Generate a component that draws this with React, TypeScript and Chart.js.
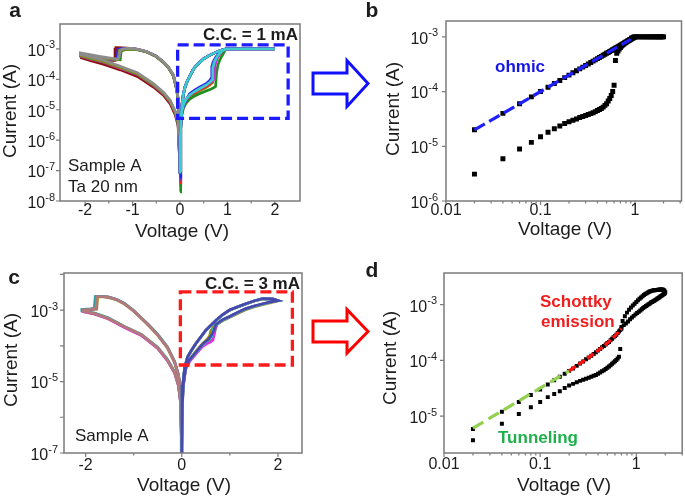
import React, { useEffect, useRef } from 'react';
import { Chart, registerables } from 'chart.js';

Chart.register(...registerables);

type P = [number, number];

// ================= Panel a data (C.C. = 1 mA, linear V) =================
const aPosOlive: P[] = [[0,3e-8],[0.015,2.8e-6],[0.04,7.5e-6],[0.07,1.2e-5],[0.12,1.8e-5],[0.2,2.6e-5],[0.3,3.3e-5],[0.42,4.3e-5],[0.55,5.4e-5],[0.63,6.5e-5],[0.69,8e-5],[0.7,2e-4],[0.74,3.8e-4],[0.8,5.8e-4],[0.88,8.2e-4],[0.96,1e-3],[2.0,1e-3]];
const aPosGreen: P[] = [[0,2e-8],[0.015,2.5e-6],[0.04,7e-6],[0.07,1.1e-5],[0.12,1.6e-5],[0.2,2.2e-5],[0.3,2.8e-5],[0.42,3.4e-5],[0.55,4.1e-5],[0.63,4.6e-5],[0.7,5.2e-5],[0.75,5.8e-5],[0.77,1.6e-4],[0.8,3e-4],[0.84,4.4e-4],[0.9,6.5e-4],[0.95,9e-4],[1.0,1e-3],[2.0,1e-3]];
const aPosRed: P[] = [[0,4e-8],[0.015,3e-6],[0.04,8e-6],[0.07,1.25e-5],[0.12,1.9e-5],[0.2,2.9e-5],[0.3,3.6e-5],[0.42,4.6e-5],[0.55,5.8e-5],[0.63,7e-5],[0.68,8.5e-5],[0.71,1e-4],[0.72,2.6e-4],[0.76,4.2e-4],[0.82,6.2e-4],[0.9,8.6e-4],[0.97,1e-3],[2.0,1e-3]];
const aPosMagenta: P[] = [[0,5e-8],[0.015,3.5e-6],[0.04,9e-6],[0.07,1.35e-5],[0.12,2e-5],[0.2,3.1e-5],[0.3,4e-5],[0.42,5.2e-5],[0.55,6.6e-5],[0.63,8e-5],[0.7,9.5e-5],[0.73,1.1e-4],[0.74,3e-4],[0.78,5e-4],[0.84,7e-4],[0.9,9e-4],[0.96,1e-3],[2.0,1e-3]];
const aPosPurple: P[] = [[0,5e-8],[0.015,3.3e-6],[0.04,8.8e-6],[0.07,1.3e-5],[0.12,2e-5],[0.2,3e-5],[0.3,4e-5],[0.42,5.3e-5],[0.55,6.8e-5],[0.63,8.5e-5],[0.69,1.05e-4],[0.7,2.8e-4],[0.75,4.6e-4],[0.82,6.8e-4],[0.9,9e-4],[0.97,1e-3],[2.0,1e-3]];
const aPosBlue: P[] = [[0,6e-8],[0.015,3.2e-6],[0.04,8.5e-6],[0.07,1.3e-5],[0.12,2e-5],[0.2,3.3e-5],[0.3,4.3e-5],[0.42,5.6e-5],[0.55,7.2e-5],[0.62,9e-5],[0.66,1.1e-4],[0.67,2.6e-4],[0.7,3.8e-4],[0.76,5.5e-4],[0.84,7.6e-4],[0.92,9.4e-4],[0.98,1e-3],[2.0,1e-3]];
const aPosCyan: P[] = [[0,1e-7],[0.015,3.5e-6],[0.04,9e-6],[0.07,1.4e-5],[0.12,2.1e-5],[0.2,3e-5],[0.3,3.9e-5],[0.42,5e-5],[0.55,6.4e-5],[0.63,8e-5],[0.68,1e-4],[0.69,2.4e-4],[0.73,4e-4],[0.8,6.2e-4],[0.9,8.8e-4],[0.98,1e-3],[2.0,1e-3]];
const aLrsReturn: P[] = [[2.0,1e-3],[1.5,1e-3],[1.1,1e-3],[0.98,1e-3],[0.9,9.4e-4],[0.8,8.3e-4],[0.7,7e-4],[0.6,5.9e-4],[0.49,4.6e-4],[0.35,2.9e-4],[0.28,2.1e-4],[0.21,1.3e-4],[0.15,8.5e-5],[0.105,5.5e-5],[0.07,3.2e-5],[0.045,1.6e-5],[0.025,6e-6],[0.01,1.5e-6],[0,8e-8]];

const aNegDarkRed: P[] = [[0,2e-7],[-0.02,1.1e-5],[-0.035,1.8e-5],[-0.07,4.6e-5],[-0.14,1.3e-4],[-0.25,2.5e-4],[-0.35,3.6e-4],[-0.5,5.6e-4],[-0.7,8e-4],[-0.9,9.7e-4],[-1.05,1.05e-3],[-1.2,1.08e-3],[-1.35,1.1e-3],[-1.37,4.2e-4],[-1.5,4.2e-4],[-1.7,4.7e-4],[-1.9,5.3e-4],[-2.08,5.9e-4],[-2.08,5.1e-4],[-1.9,4.2e-4],[-1.6,3.1e-4],[-1.26,2.05e-4],[-0.9,1.25e-4],[-0.56,5.6e-5],[-0.35,3e-5],[-0.21,1.6e-5],[-0.1,6.8e-6],[-0.04,3e-6],[0,1.2e-7]];
const aNegMagenta: P[] = [[0,1.5e-7],[-0.02,1.15e-5],[-0.035,1.9e-5],[-0.07,4.8e-5],[-0.14,1.35e-4],[-0.25,2.55e-4],[-0.35,3.7e-4],[-0.5,5.7e-4],[-0.7,8.1e-4],[-0.9,9.7e-4],[-1.05,1.03e-3],[-1.2,1.0e-3],[-1.3,9.6e-4],[-1.32,4.4e-4],[-1.5,4.6e-4],[-1.7,5.2e-4],[-1.9,5.9e-4],[-2.1,6.7e-4],[-2.1,5.8e-4],[-1.9,4.7e-4],[-1.6,3.6e-4],[-1.26,2.3e-4],[-0.9,1.45e-4],[-0.56,6.3e-5],[-0.35,3.4e-5],[-0.21,1.8e-5],[-0.1,7.8e-6],[-0.04,3.6e-6],[0,1.4e-7]];
const aNegBlue: P[] = [[0,1.7e-7],[-0.02,1.2e-5],[-0.035,2e-5],[-0.07,4.9e-5],[-0.14,1.38e-4],[-0.25,2.6e-4],[-0.35,3.75e-4],[-0.5,5.75e-4],[-0.7,8.1e-4],[-0.9,9.7e-4],[-1.05,1.04e-3],[-1.2,1.02e-3],[-1.31,9.8e-4],[-1.33,4.5e-4],[-1.5,4.8e-4],[-1.7,5.4e-4],[-1.9,6.1e-4],[-2.1,7e-4],[-2.1,6.1e-4],[-1.9,5e-4],[-1.6,3.85e-4],[-1.26,2.5e-4],[-0.9,1.55e-4],[-0.56,6.8e-5],[-0.35,3.6e-5],[-0.21,1.95e-5],[-0.1,8.5e-6],[-0.04,4e-6],[0,1.6e-7]];
const aNegGreen: P[] = [[0,1.3e-7],[-0.02,1.1e-5],[-0.035,1.85e-5],[-0.07,4.7e-5],[-0.14,1.32e-4],[-0.25,2.5e-4],[-0.35,3.65e-4],[-0.5,5.6e-4],[-0.7,7.9e-4],[-0.9,9.4e-4],[-1.05,9.8e-4],[-1.15,9.4e-4],[-1.24,8.6e-4],[-1.26,4.4e-4],[-1.5,4.7e-4],[-1.7,5.3e-4],[-1.9,6e-4],[-2.1,6.9e-4],[-2.1,6e-4],[-1.9,4.9e-4],[-1.6,3.75e-4],[-1.26,2.45e-4],[-0.9,1.5e-4],[-0.56,6.6e-5],[-0.35,3.5e-5],[-0.21,1.9e-5],[-0.1,8.2e-6],[-0.04,3.8e-6],[0,1.3e-7]];
const aNegOlive: P[] = [[0,1e-7],[-0.02,1.15e-5],[-0.035,1.9e-5],[-0.07,4.8e-5],[-0.14,1.35e-4],[-0.25,2.55e-4],[-0.35,3.7e-4],[-0.5,5.7e-4],[-0.7,8.1e-4],[-0.9,9.6e-4],[-1.05,1.0e-3],[-1.2,9.4e-4],[-1.28,9e-4],[-1.3,4.5e-4],[-1.5,4.75e-4],[-1.7,5.35e-4],[-1.9,6.05e-4],[-2.1,6.9e-4],[-2.1,6.05e-4],[-1.9,4.95e-4],[-1.6,3.8e-4],[-1.26,2.45e-4],[-0.9,1.52e-4],[-0.56,6.7e-5],[-0.35,3.55e-5],[-0.21,1.92e-5],[-0.1,8.3e-6],[-0.04,3.9e-6],[0,1e-7]];
const aNegGray: P[] = [[0,1.5e-7],[-0.02,1.2e-5],[-0.035,2e-5],[-0.07,5e-5],[-0.14,1.4e-4],[-0.25,2.6e-4],[-0.35,3.8e-4],[-0.5,5.8e-4],[-0.7,8.2e-4],[-0.88,9.7e-4],[-1.0,1.04e-3],[-1.1,1.04e-3],[-1.2,1e-3],[-1.26,9.2e-4],[-1.28,5.5e-4],[-1.32,4.6e-4],[-1.5,5.1e-4],[-1.7,5.7e-4],[-1.9,6.5e-4],[-2.1,7.4e-4],[-2.1,6.6e-4],[-1.9,5.4e-4],[-1.6,4.2e-4],[-1.26,2.7e-4],[-0.9,1.65e-4],[-0.56,7.2e-5],[-0.35,3.8e-5],[-0.21,2.1e-5],[-0.1,9e-6],[-0.04,4.5e-6],[0,1.8e-7]];
const aBoxV = [-0.05, 2.28];
const aBoxI = [5.2e-6, 1.35e-3];

// ================= Panel b data (log-log, C.C. = 1 mA) =================
const bHrsV = [0.02,0.04,0.06,0.08,0.10,0.12,0.14,0.16,0.18,0.20,0.22,0.24,0.26,0.28,0.30,0.32,0.34,0.36,0.38,0.40,0.42,0.44,0.46,0.48,0.50,0.52,0.54,0.56,0.58,0.60];
const bHrsI = [3.1e-6,5.9e-6,8.9e-6,1.18e-5,1.5e-5,1.8e-5,2.1e-5,2.35e-5,2.6e-5,2.8e-5,3.0e-5,3.15e-5,3.35e-5,3.5e-5,3.65e-5,3.8e-5,3.95e-5,4.1e-5,4.3e-5,4.5e-5,4.7e-5,4.9e-5,5.2e-5,5.6e-5,6.0e-5,6.7e-5,7.5e-5,8.5e-5,1.0e-4,1.3e-4];
const bSetV = [0.62,0.64,0.66,0.68,0.70,0.72,0.74,0.76,0.78,0.80,0.84,0.88,0.92,0.96];
const bSetI = [3.7e-4,5.0e-4,5.5e-4,6.0e-4,6.4e-4,6.8e-4,7.1e-4,7.4e-4,7.7e-4,8.0e-4,8.5e-4,9.0e-4,9.5e-4,9.8e-4];
const bCompV = [1.00,1.04,1.08,1.12,1.16,1.20,1.24,1.28,1.32,1.36,1.40,1.44,1.48,1.52,1.56,1.60,1.64,1.68,1.72,1.76,1.80,1.84,1.88,1.92,1.96,2.00];
const bCompI = [1e-3,1e-3,1e-3,1e-3,1e-3,1e-3,1e-3,1e-3,1e-3,1e-3,1e-3,1e-3,1e-3,1e-3,1e-3,1e-3,1e-3,1e-3,1e-3,1e-3,1e-3,1e-3,1e-3,1e-3,1e-3,1e-3];
const bLrsV = [0.02,0.04,0.06,0.08,0.10,0.12,0.14,0.16,0.18,0.20,0.22,0.24,0.26,0.28,0.30,0.32,0.34,0.36,0.38,0.40,0.42,0.44,0.46,0.48,0.50,0.52,0.54,0.56,0.58,0.60,0.62,0.64,0.66,0.68,0.70,0.72,0.74,0.76,0.78,0.80,0.82,0.84,0.86,0.88,0.90,0.92,0.94,0.96,0.98,1.00];
const bLrsI = [2.0e-5,4.0e-5,6.0e-5,8.0e-5,1.0e-4,1.2e-4,1.4e-4,1.6e-4,1.8e-4,2.0e-4,2.2e-4,2.4e-4,2.6e-4,2.8e-4,3.0e-4,3.2e-4,3.4e-4,3.6e-4,3.8e-4,4.0e-4,4.2e-4,4.4e-4,4.6e-4,4.8e-4,5.0e-4,5.2e-4,5.4e-4,5.6e-4,5.8e-4,6.0e-4,6.2e-4,6.4e-4,6.6e-4,6.8e-4,7.0e-4,7.2e-4,7.4e-4,7.6e-4,7.8e-4,8.0e-4,8.2e-4,8.4e-4,8.6e-4,8.8e-4,9.0e-4,9.2e-4,9.4e-4,9.6e-4,9.8e-4,1.0e-3];
const bOhmicFit: P[] = [[0.02,2e-5],[0.9,9e-4]];

// ================= Panel c data (C.C. = 3 mA, linear V) =================
const cNegOlive: P[] = [[0,1e-7],[-0.01,1.9e-6],[-0.03,5.8e-6],[-0.07,1.45e-5],[-0.15,3.4e-5],[-0.3,8.7e-5],[-0.5,1.95e-4],[-0.7,3.8e-4],[-0.84,5.8e-4],[-1.0,9.3e-4],[-1.19,1.47e-3],[-1.35,1.92e-3],[-1.53,2.27e-3],[-1.68,2.36e-3],[-1.75,2.3e-3],[-1.77,1.06e-3],[-1.9,1.02e-3],[-2.03,9.8e-4],[-2.03,9.0e-4],[-1.81,7.7e-4],[-1.53,5.7e-4],[-1.19,3.3e-4],[-0.84,1.98e-4],[-0.5,8.5e-5],[-0.3,3.9e-5],[-0.15,1.75e-5],[-0.07,7.8e-6],[-0.03,2.9e-6],[0,1e-7]];
const cNegMagenta: P[] = [[0,1e-7],[-0.01,2.1e-6],[-0.03,6.2e-6],[-0.07,1.55e-5],[-0.15,3.6e-5],[-0.3,9.2e-5],[-0.5,2.05e-4],[-0.7,3.95e-4],[-0.84,5.95e-4],[-1.0,9.6e-4],[-1.19,1.52e-3],[-1.35,1.97e-3],[-1.53,2.32e-3],[-1.7,2.4e-3],[-1.78,2.36e-3],[-1.8,1.08e-3],[-1.9,1.04e-3],[-2.06,1.0e-3],[-2.06,9.1e-4],[-1.81,7.8e-4],[-1.53,5.7e-4],[-1.19,3.25e-4],[-0.84,1.95e-4],[-0.5,8.4e-5],[-0.3,3.85e-5],[-0.15,1.75e-5],[-0.07,7.6e-6],[-0.03,2.8e-6],[0,1e-7]];
const cNegTeal: P[] = [[0,1e-7],[-0.01,2.2e-6],[-0.03,6.5e-6],[-0.07,1.6e-5],[-0.15,3.7e-5],[-0.3,9.4e-5],[-0.5,2.08e-4],[-0.7,4e-4],[-0.84,6e-4],[-1.0,9.7e-4],[-1.19,1.53e-3],[-1.35,1.98e-3],[-1.53,2.33e-3],[-1.7,2.43e-3],[-1.8,2.4e-3],[-1.82,1.12e-3],[-1.9,1.08e-3],[-2.08,1.03e-3],[-2.08,9.6e-4],[-1.81,8.3e-4],[-1.53,6.1e-4],[-1.19,3.5e-4],[-0.84,2.1e-4],[-0.5,9.1e-5],[-0.3,4.2e-5],[-0.15,1.9e-5],[-0.07,8.4e-6],[-0.03,3.2e-6],[0,1e-7]];
const cNegRosy: P[] = [[0,1e-7],[-0.01,2e-6],[-0.03,6e-6],[-0.07,1.5e-5],[-0.15,3.5e-5],[-0.3,9e-5],[-0.5,2e-4],[-0.7,3.9e-4],[-0.84,5.9e-4],[-1.0,9.5e-4],[-1.19,1.5e-3],[-1.35,1.95e-3],[-1.53,2.3e-3],[-1.68,2.4e-3],[-1.77,2.35e-3],[-1.79,1.1e-3],[-1.9,1.05e-3],[-2.05,1.0e-3],[-2.05,9.3e-4],[-1.81,8e-4],[-1.53,5.9e-4],[-1.19,3.4e-4],[-0.84,2.05e-4],[-0.5,8.8e-5],[-0.3,4e-5],[-0.15,1.8e-5],[-0.07,8e-6],[-0.03,3e-6],[0,1e-7]];

const cPosOlive: P[] = [[0,1e-7],[0.01,2.2e-6],[0.03,8.5e-6],[0.08,2.5e-5],[0.16,4.2e-5],[0.3,7.2e-5],[0.43,1.15e-4],[0.52,1.5e-4],[0.58,1.9e-4],[0.6,2.6e-4],[0.66,3.4e-4],[0.72,3.9e-4],[0.85,5e-4],[0.99,6.2e-4],[1.15,7.9e-4],[1.33,1.02e-3],[1.5,1.22e-3],[1.68,1.42e-3],[1.85,1.62e-3],[1.98,1.78e-3]];
const cPosOliveRet: P[] = [[1.98,1.78e-3],[1.9,1.98e-3],[1.68,2.04e-3],[1.5,1.76e-3],[1.33,1.47e-3],[1.15,1.2e-3],[0.99,9.7e-4],[0.85,7.3e-4],[0.71,5e-4],[0.5,2.7e-4],[0.3,1.18e-4],[0.2,7.3e-5],[0.12,4.8e-5],[0.06,2.4e-5],[0.02,7.5e-6],[0.005,1.4e-6],[0,1e-7]];
const cPosGreen: P[] = [[0,1e-7],[0.01,1.9e-6],[0.03,7.5e-6],[0.08,2.3e-5],[0.16,3.8e-5],[0.3,6.4e-5],[0.43,1.02e-4],[0.55,1.38e-4],[0.64,1.7e-4],[0.68,2.2e-4],[0.7,3e-4],[0.74,4.1e-4],[0.85,5.3e-4],[0.99,6.5e-4],[1.15,8.4e-4],[1.33,1.08e-3],[1.5,1.28e-3],[1.68,1.48e-3],[1.85,1.68e-3],[2.0,1.83e-3]];
const cPosMagenta: P[] = [[0,1e-7],[0.01,1.8e-6],[0.03,7e-6],[0.08,2.2e-5],[0.16,3.6e-5],[0.3,6e-5],[0.43,9.5e-5],[0.5,1.1e-4],[0.6,1.28e-4],[0.65,1.45e-4],[0.68,2.5e-4],[0.72,3.9e-4],[0.85,5.3e-4],[0.99,6.5e-4],[1.15,8.4e-4],[1.33,1.08e-3],[1.5,1.28e-3],[1.68,1.48e-3],[1.85,1.68e-3],[2.0,1.83e-3]];
const cPosCyan: P[] = [[0,1e-7],[0.01,2.1e-6],[0.03,8e-6],[0.08,2.4e-5],[0.16,4e-5],[0.3,6.6e-5],[0.43,1.06e-4],[0.55,1.45e-4],[0.62,1.8e-4],[0.65,2.8e-4],[0.7,3.7e-4],[0.85,5.3e-4],[0.99,6.5e-4],[1.15,8.4e-4],[1.33,1.08e-3],[1.5,1.28e-3],[1.68,1.48e-3],[1.85,1.68e-3],[2.0,1.83e-3]];
const cRetShared: P[] = [[2.0,1.83e-3],[1.9,2.02e-3],[1.68,2.08e-3],[1.5,1.79e-3],[1.33,1.49e-3],[1.15,1.21e-3],[0.99,9.9e-4],[0.85,7.4e-4],[0.71,5.1e-4],[0.5,2.72e-4],[0.3,1.19e-4],[0.2,7.4e-5],[0.12,4.85e-5],[0.06,2.45e-5],[0.02,7.8e-6],[0.005,1.45e-6],[0,1e-7]];
const cPosBlue: P[] = [[0,1e-7],[0.01,2e-6],[0.03,8e-6],[0.08,2.4e-5],[0.16,4e-5],[0.3,6.8e-5],[0.43,1.1e-4],[0.55,1.5e-4],[0.62,2e-4],[0.66,2.6e-4],[0.71,4e-4],[0.85,5.4e-4],[0.99,6.6e-4],[1.15,8.5e-4],[1.33,1.1e-3],[1.5,1.3e-3],[1.68,1.5e-3],[1.85,1.7e-3],[2.0,1.85e-3]];
const cPosBlueRet: P[] = [[2.0,1.85e-3],[1.9,2.05e-3],[1.68,2.1e-3],[1.5,1.8e-3],[1.33,1.5e-3],[1.15,1.22e-3],[0.99,1e-3],[0.85,7.5e-4],[0.71,5.2e-4],[0.5,2.75e-4],[0.3,1.2e-4],[0.2,7.5e-5],[0.12,4.9e-5],[0.06,2.5e-5],[0.02,8e-6],[0.005,1.5e-6],[0,1e-7]];
const cBoxV = [-0.03, 2.30];
const cBoxI = [2.9e-5, 3.25e-3];

// ================= Panel d data (log-log, C.C. = 3 mA) =================
const dHrsV = [0.02,0.04,0.06,0.08,0.10,0.12,0.14,0.16,0.18,0.20,0.22,0.24,0.26,0.28,0.30,0.32,0.34,0.36,0.38,0.40,0.42,0.44,0.46,0.48,0.50,0.52,0.54,0.56,0.58,0.60,0.62,0.64,0.66,0.68];
const dHrsI = [3.7e-6,7.3e-6,1.1e-5,1.45e-5,1.8e-5,2.2e-5,2.5e-5,2.8e-5,3.2e-5,3.55e-5,3.8e-5,4.05e-5,4.3e-5,4.5e-5,4.7e-5,4.9e-5,5.1e-5,5.3e-5,5.5e-5,5.8e-5,6.1e-5,6.4e-5,6.7e-5,7.0e-5,7.4e-5,7.8e-5,8.2e-5,8.7e-5,9.2e-5,9.7e-5,1.02e-4,1.08e-4,1.17e-4,1.6e-4];
const dLoopFwdV = [0.70,0.74,0.78,0.82,0.86,0.90,0.94,0.98,1.02,1.06,1.10,1.14,1.18,1.22,1.26,1.30,1.34,1.38,1.42,1.46,1.50,1.54,1.58,1.62,1.66,1.70,1.74,1.78,1.82,1.86,1.90,1.94,1.98];
const dLoopFwdI = [4.0e-4,4.3e-4,4.6e-4,5.0e-4,5.5e-4,5.9e-4,6.3e-4,6.7e-4,7.1e-4,7.5e-4,7.9e-4,8.3e-4,8.7e-4,9.1e-4,9.5e-4,9.8e-4,1.02e-3,1.05e-3,1.09e-3,1.12e-3,1.15e-3,1.18e-3,1.22e-3,1.25e-3,1.29e-3,1.32e-3,1.36e-3,1.40e-3,1.44e-3,1.48e-3,1.52e-3,1.56e-3,1.6e-3];
const dLoopRetV = [2.00,1.96,1.92,1.88,1.84,1.80,1.76,1.72,1.68,1.64,1.60,1.56,1.52,1.48,1.44,1.40,1.36,1.32,1.28,1.24,1.20,1.16,1.12,1.08,1.04,1.00,0.96,0.92,0.88,0.84,0.80,0.76,0.72];
const dLoopRetI = [1.68e-3,1.78e-3,1.84e-3,1.87e-3,1.88e-3,1.88e-3,1.87e-3,1.86e-3,1.85e-3,1.84e-3,1.83e-3,1.82e-3,1.81e-3,1.80e-3,1.77e-3,1.74e-3,1.70e-3,1.65e-3,1.60e-3,1.55e-3,1.49e-3,1.42e-3,1.35e-3,1.28e-3,1.20e-3,1.12e-3,1.04e-3,9.7e-4,8.9e-4,8.1e-4,7.2e-4,6.2e-4,5.1e-4];
const dRetLowV = [0.70,0.68,0.66,0.64,0.62,0.60,0.58,0.56,0.54,0.52,0.50,0.48,0.46,0.44,0.42,0.40,0.38,0.36,0.34,0.32,0.30,0.28,0.26,0.24,0.22,0.20,0.18,0.16,0.14,0.12,0.10,0.08,0.06,0.04,0.02];
const dRetLowI = [3.7e-4,3.5e-4,3.3e-4,3.1e-4,2.9e-4,2.75e-4,2.6e-4,2.45e-4,2.3e-4,2.15e-4,2.05e-4,1.93e-4,1.82e-4,1.72e-4,1.6e-4,1.5e-4,1.4e-4,1.3e-4,1.21e-4,1.13e-4,1.05e-4,9.6e-5,8.8e-5,8.0e-5,7.2e-5,6.5e-5,5.8e-5,5.1e-5,4.4e-5,3.7e-5,3.0e-5,2.4e-5,1.8e-5,1.2e-5,5.9e-6];
const dTunnelFit: P[] = [[0.02,6.1e-6],[0.2,6.5e-5]];
const dSchottkyFit: P[] = [[0.2,6.5e-5],[0.3,1.05e-4],[0.4,1.5e-4],[0.5,2.05e-4],[0.6,2.75e-4],[0.7,3.7e-4]];

// ================= tick values =================
const linTicksA = [-2, -1, 0, 1, 2];
const linMinorA = [-1.5, -0.5, 0.5, 1.5];
const decadesA = [-8, -7, -6, -5, -4, -3];
const logXTicks = [0.01, 0.1, 1];
const logXLabels = ['0.01', '0.1', '1'];
const logXMinor = [0.02,0.03,0.04,0.05,0.06,0.07,0.08,0.09,0.2,0.3,0.4,0.5,0.6,0.7,0.8,0.9,2,3];
const decadesB = [-6, -5, -4, -3];
const linTicksC = [-2, 0, 2];
const linMinorC = [-1, 1];
const decadesC = [-7, -5, -3];
const decadesCUnlabeled = [-6, -4, -2];
const decadesD = [-5, -4, -3];

// ================= rendering helpers =================
const FONT = '"Liberation Sans", Arial, Helvetica, sans-serif';
const AXIS_COLOR = '#7b7b7b';
const TEXT_COLOR = '#1c1c1c';

const toXY = (pts: P[]) => pts.map(([x, y]) => ({ x, y }));
const zip = (v: number[], i: number[]) => v.map((x, k) => ({ x, y: i[k] }));

const lineDs = (data: any[], color: string, width = 2.7) => ({
  data, showLine: true, borderColor: color, backgroundColor: color, borderWidth: width,
  pointRadius: 0, pointHoverRadius: 0, tension: 0, fill: false,
});
const dotDs = (data: any[], r: number) => ({
  data, showLine: false, pointStyle: 'rect', pointRadius: r, pointHoverRadius: r,
  backgroundColor: '#000', borderColor: '#000', borderWidth: 0,
});
const dashDs = (data: any[], color: string, dash: number[], width = 3.2) => ({
  data, showLine: true, borderColor: color, backgroundColor: color, borderWidth: width,
  borderDash: dash, pointRadius: 0, pointHoverRadius: 0, tension: 0, fill: false, borderCapStyle: 'butt',
});

interface TickSpec { v: number; label?: string; sup?: string }
interface TextSpec { text: string; x: number; y: number; font: string; color?: string; align?: CanvasTextAlign; rotate?: boolean }
interface PanelSpec {
  ox: number; oy: number; w: number; h: number;
  area: { l: number; t: number; r: number; b: number };
  xType: string; xMin: number; xMax: number;
  yMin: number; yMax: number;
  xTicks: TickSpec[]; xMinor: number[];
  yTicks: TickSpec[]; yMinor: number[];
  xLabelOff: number; yLabelGap: number;
  texts: TextSpec[];
  rect?: { x: number[]; y: number[]; color: string };
  datasets: any[];
}

function decor(spec: PanelSpec) {
  return {
    id: 'decor',
    afterDatasetsDraw(chart: any) {
      const ctx: CanvasRenderingContext2D = chart.ctx;
      const a = chart.chartArea;
      const xs = chart.scales.x;
      const ys = chart.scales.y;
      ctx.save();
      if (spec.rect) {
        const r = spec.rect;
        const x0 = xs.getPixelForValue(r.x[0]);
        const x1 = xs.getPixelForValue(r.x[1]);
        const y0 = ys.getPixelForValue(r.y[1]);
        const y1 = ys.getPixelForValue(r.y[0]);
        ctx.strokeStyle = r.color;
        ctx.lineWidth = 3.3;
        ctx.setLineDash([11, 5]);
        ctx.strokeRect(x0, y0, x1 - x0, y1 - y0);
      }
      ctx.setLineDash([]);
      ctx.strokeStyle = AXIS_COLOR;
      ctx.lineWidth = 1.5;
      ctx.strokeRect(a.left, a.top, a.right - a.left, a.bottom - a.top);
      ctx.lineWidth = 1.2;
      ctx.beginPath();
      for (const t of spec.xTicks) {
        const px = xs.getPixelForValue(t.v);
        ctx.moveTo(px, a.bottom); ctx.lineTo(px, a.bottom + 4);
      }
      for (const v of spec.xMinor) {
        const px = xs.getPixelForValue(v);
        ctx.moveTo(px, a.bottom); ctx.lineTo(px, a.bottom + 2.5);
      }
      for (const t of spec.yTicks) {
        const py = ys.getPixelForValue(t.v);
        ctx.moveTo(a.left, py); ctx.lineTo(a.left - 4, py);
      }
      for (const v of spec.yMinor) {
        const py = ys.getPixelForValue(v);
        ctx.moveTo(a.left, py); ctx.lineTo(a.left - 4, py);
      }
      ctx.stroke();

      ctx.fillStyle = TEXT_COLOR;
      ctx.textBaseline = 'middle';
      ctx.font = `16px ${FONT}`;
      ctx.textAlign = 'center';
      for (const t of spec.xTicks) {
        if (!t.label) continue;
        ctx.fillText(t.label, xs.getPixelForValue(t.v), a.bottom + spec.xLabelOff);
      }
      for (const t of spec.yTicks) {
        if (!t.label) continue;
        const py = ys.getPixelForValue(t.v);
        const right = a.left - spec.yLabelGap;
        ctx.font = `11px ${FONT}`;
        const ws = ctx.measureText(t.sup || '').width;
        ctx.font = `16px ${FONT}`;
        ctx.textAlign = 'right';
        ctx.fillText(t.label, right - ws, py + 2.5);
        ctx.font = `11px ${FONT}`;
        ctx.textAlign = 'left';
        ctx.fillText(t.sup || '', right - ws, py - 3.5);
      }
      for (const t of spec.texts) {
        ctx.font = t.font;
        ctx.fillStyle = t.color || TEXT_COLOR;
        ctx.textAlign = t.align || 'left';
        ctx.textBaseline = 'middle';
        const x = t.x - spec.ox;
        const y = t.y - spec.oy;
        if (t.rotate) {
          ctx.save(); ctx.translate(x, y); ctx.rotate(-Math.PI / 2); ctx.fillText(t.text, 0, 0); ctx.restore();
        } else {
          ctx.fillText(t.text, x, y);
        }
      }
      ctx.restore();
    },
  };
}

function Panel({ spec }: { spec: PanelSpec }) {
  const ref = useRef<HTMLCanvasElement>(null);
  useEffect(() => {
    const n = spec.datasets.length;
    const datasets = spec.datasets.map((d, i) => ({ ...d, order: n - i }));
    const chart = new Chart(ref.current as HTMLCanvasElement, {
      type: 'scatter',
      data: { datasets } as any,
      options: {
        responsive: false,
        maintainAspectRatio: false,
        animation: false,
        devicePixelRatio: 1,
        events: [],
        layout: { padding: { left: 0, top: spec.area.t - spec.oy, right: spec.ox + spec.w - spec.area.r, bottom: 0 } },
        scales: {
          x: {
            type: spec.xType as any, min: spec.xMin, max: spec.xMax,
            grid: { display: false }, border: { display: false }, ticks: { display: false },
            afterFit: (s: any) => { s.height = spec.oy + spec.h - spec.area.b; },
          },
          y: {
            type: 'logarithmic', min: spec.yMin, max: spec.yMax,
            grid: { display: false }, border: { display: false }, ticks: { display: false },
            afterFit: (s: any) => { s.width = spec.area.l - spec.ox; },
          },
        },
        plugins: { legend: { display: false }, tooltip: { enabled: false } },
      } as any,
      plugins: [decor(spec)],
    });
    return () => chart.destroy();
  }, []);
  return (
    <canvas
      ref={ref}
      width={spec.w}
      height={spec.h}
      style={{ position: 'absolute', left: spec.ox, top: spec.oy, width: spec.w, height: spec.h }}
    />
  );
}

const dec = (e: number) => Math.pow(10, e);
const decTicks = (es: number[]): TickSpec[] => es.map((e) => ({ v: dec(e), label: '10', sup: String(e) }));
const linTicks = (vs: number[]): TickSpec[] => vs.map((v) => ({ v, label: String(v) }));
const logTicks = (vs: number[], ls: string[]): TickSpec[] => vs.map((v, i) => ({ v, label: ls[i] }));

const TITLE = `19px ${FONT}`;
const LETTER = `bold 21px ${FONT}`;
const NOTE = `17px ${FONT}`;
const BOLD = `bold 17px ${FONT}`;

const C = {
  gray: '#8c8c8c', darkred: '#8e0f0f', olive: '#8a8a12', green: '#1f8f1f', red: '#ee2222',
  magenta: '#de22de', purple: '#7a3cc4', blue: '#2a2ae6', cyan: '#3ccccc',
  rosy: '#b27a7a', slate: '#4949ad', teal: '#2a9d9d', cgreen: '#2db52d', cmag: '#e22ee2', ccyan: '#30d0d0', colive: '#8f8f14',
};

const specA: PanelSpec = {
  ox: 0, oy: 0, w: 340, h: 248,
  area: { l: 60, t: 24, r: 300, b: 201 },
  xType: 'linear', xMin: -2.53, xMax: 2.53, yMin: 1e-8, yMax: 6.6e-3,
  xTicks: linTicks(linTicksA), xMinor: linMinorA,
  yTicks: decTicks(decadesA), yMinor: [],
  xLabelOff: 10, yLabelGap: 5,
  texts: [
    { text: 'a', x: 15, y: 11, font: LETTER, align: 'center' },
    { text: 'Current (A)', x: 11, y: 111, font: TITLE, align: 'center', rotate: true },
    { text: 'Voltage (V)', x: 182, y: 232, font: TITLE, align: 'center' },
    { text: 'C.C. = 1 mA', x: 298, y: 35, font: BOLD, align: 'right' },
    { text: 'Sample A', x: 68, y: 166, font: NOTE },
    { text: 'Ta 20 nm', x: 68, y: 187, font: NOTE },
  ],
  rect: { x: aBoxV, y: aBoxI, color: '#1c1cff' },
  datasets: [
    lineDs(toXY(aNegDarkRed), C.darkred),
    lineDs(toXY(aNegMagenta), C.magenta),
    lineDs(toXY(aNegBlue), C.blue),
    lineDs(toXY(aNegGreen), C.green),
    lineDs(toXY(aNegOlive), C.olive),
    lineDs(toXY(aNegGray), C.gray),
    lineDs(toXY(aPosOlive.concat(aLrsReturn)), C.olive),
    lineDs(toXY(aPosGreen.concat(aLrsReturn)), C.green),
    lineDs(toXY(aPosRed.concat(aLrsReturn)), C.red),
    lineDs(toXY(aPosMagenta.concat(aLrsReturn)), C.magenta),
    lineDs(toXY(aPosPurple.concat(aLrsReturn)), C.purple),
    lineDs(toXY(aPosBlue.concat(aLrsReturn)), C.blue),
    lineDs(toXY(aPosCyan.concat(aLrsReturn)), C.cyan),
  ],
};

const specB: PanelSpec = {
  ox: 340, oy: 0, w: 345, h: 248,
  area: { l: 446, t: 21, r: 684, b: 201 },
  xType: 'logarithmic', xMin: 0.01, xMax: 3.1, yMin: 1e-6, yMax: 1.95e-3,
  xTicks: logTicks(logXTicks, logXLabels), xMinor: logXMinor,
  yTicks: decTicks(decadesB), yMinor: [],
  xLabelOff: 10, yLabelGap: 8,
  texts: [
    { text: 'b', x: 372, y: 11, font: LETTER, align: 'center' },
    { text: 'Current (A)', x: 394, y: 109, font: TITLE, align: 'center', rotate: true },
    { text: 'Voltage (V)', x: 565, y: 230, font: TITLE, align: 'center' },
    { text: 'ohmic', x: 495, y: 67, font: BOLD, color: '#1515e6' },
  ],
  datasets: [
    dotDs(zip(bHrsV, bHrsI), 3.5),
    dotDs(zip(bSetV, bSetI), 3.5),
    dotDs(zip(bCompV, bCompI), 3.5),
    dotDs(zip(bLrsV, bLrsI), 3.5),
    dashDs(toXY(bOhmicFit), '#1f1fff', [12, 5]),
  ],
};

const specC: PanelSpec = {
  ox: 0, oy: 248, w: 340, h: 249,
  area: { l: 64, t: 273, r: 302, b: 453 },
  xType: 'linear', xMin: -2.45, xMax: 2.5, yMin: 1e-7, yMax: 1.09e-2,
  xTicks: linTicks(linTicksC), xMinor: linMinorC,
  yTicks: decTicks(decadesC), yMinor: decadesCUnlabeled.map(dec),
  xLabelOff: 13, yLabelGap: 6,
  texts: [
    { text: 'c', x: 14, y: 278, font: LETTER, align: 'center' },
    { text: 'Current (A)', x: 12, y: 360, font: TITLE, align: 'center', rotate: true },
    { text: 'Voltage (V)', x: 184, y: 486, font: TITLE, align: 'center' },
    { text: 'C.C. = 3 mA', x: 300, y: 284, font: BOLD, align: 'right' },
    { text: 'Sample A', x: 75, y: 436, font: NOTE },
  ],
  rect: { x: cBoxV, y: cBoxI, color: '#ff1a1a' },
  datasets: [
    lineDs(toXY(cNegOlive), C.colive),
    lineDs(toXY(cNegMagenta), C.cmag),
    lineDs(toXY(cNegTeal), C.teal),
    lineDs(toXY(cNegRosy), C.rosy),
    lineDs(toXY(cPosOlive.concat(cPosOliveRet)), C.colive),
    lineDs(toXY(cPosGreen.concat(cRetShared)), C.cgreen),
    lineDs(toXY(cPosMagenta.concat(cRetShared)), C.cmag),
    lineDs(toXY(cPosCyan.concat(cRetShared)), C.ccyan),
    lineDs(toXY(cPosBlue.concat(cPosBlueRet)), C.slate),
  ],
};

const specD: PanelSpec = {
  ox: 340, oy: 248, w: 345, h: 249,
  area: { l: 444, t: 273, r: 683, b: 453 },
  xType: 'logarithmic', xMin: 0.01, xMax: 3.0, yMin: 2.19e-6, yMax: 3.7e-3,
  xTicks: logTicks(logXTicks, logXLabels), xMinor: logXMinor,
  yTicks: decTicks(decadesD), yMinor: [],
  xLabelOff: 12, yLabelGap: 7,
  texts: [
    { text: 'd', x: 372, y: 271, font: LETTER, align: 'center' },
    { text: 'Current (A)', x: 391, y: 358, font: TITLE, align: 'center', rotate: true },
    { text: 'Voltage (V)', x: 564, y: 486, font: TITLE, align: 'center' },
    { text: 'Schottky', x: 540, y: 302, font: BOLD, color: '#f01e1e' },
    { text: 'emission', x: 541, y: 322, font: BOLD, color: '#f01e1e' },
    { text: 'Tunneling', x: 498, y: 438, font: BOLD, color: '#1fb04b' },
  ],
  datasets: [
    dotDs(zip(dHrsV, dHrsI), 2.8),
    dotDs(zip(dLoopFwdV, dLoopFwdI), 2.8),
    dotDs(zip(dLoopRetV, dLoopRetI), 2.8),
    dotDs(zip(dRetLowV, dRetLowI), 2.8),
    dashDs(toXY(dTunnelFit), '#92d050', [12, 6]),
    dashDs(toXY(dSchottkyFit), '#ff1010', [8, 3]),
  ],
};

export default function App() {
  return (
    <div style={{ position: 'absolute', left: 0, top: 0, width: 685, height: 497, background: '#fff', overflow: 'hidden' }}>
      <Panel spec={specA} />
      <Panel spec={specB} />
      <Panel spec={specC} />
      <Panel spec={specD} />
      <svg width={685} height={497} style={{ position: 'absolute', left: 0, top: 0, pointerEvents: 'none' }}>
        <polygon points="313,73 347,73 347,60.5 368,83.5 347,106.5 347,94 313,94" fill="#fff" stroke="#1010ff" strokeWidth={3} strokeLinejoin="miter" />
        <polygon points="313,321 347,321 347,309.5 368,331.5 347,353 347,342 313,342" fill="#fff" stroke="#ff0000" strokeWidth={3} strokeLinejoin="miter" />
      </svg>
    </div>
  );
}
